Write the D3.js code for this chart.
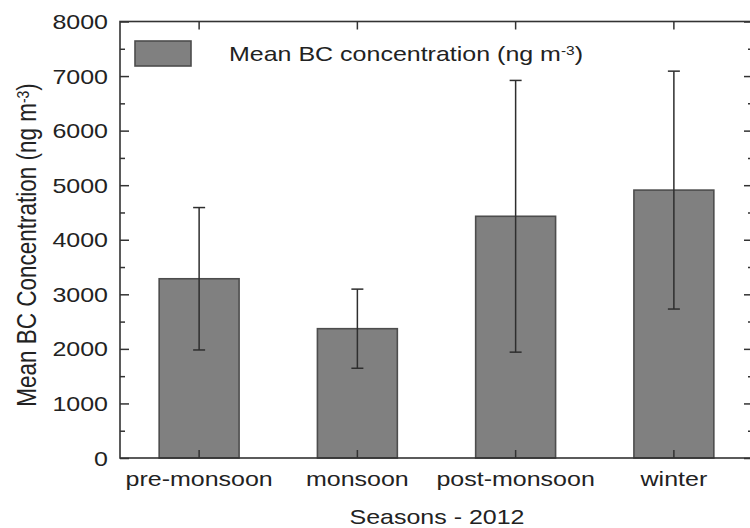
<!DOCTYPE html>
<html>
<head>
<meta charset="utf-8">
<script src="https://cdn.jsdelivr.net/npm/d3@7"></script>
<style>
  html, body { margin: 0; padding: 0; background: #fff; }
  svg { display: block; }
  text { font-family: "Liberation Sans", Arial, sans-serif; fill: #222; }
</style>
</head>
<body>
<svg id="chart" width="750" height="528"></svg>
<script>
// ---- data ----
const categories = ["pre-monsoon", "monsoon", "post-monsoon", "winter"];
const meanBC = [3285, 2370, 4430, 4910];
const sdBC = [1305, 725, 2490, 2180];
const yTicks = [0, 1000, 2000, 3000, 4000, 5000, 6000, 7000, 8000];
const yMinorTicks = [500, 1500, 2500, 3500, 4500, 5500, 6500, 7500];
const legendLabel = "Mean BC concentration (ng m";
const yTitle = "Mean BC Concentration (ng m";
const xTitle = "Seasons - 2012";

// ---- layout ----
const plotL = 120, plotR = 753, plotT = 21.5, plotB = 458;
const sx = 1.19; // horizontal stretch of the original picture's text
const axisColor = "#333";

const svg = d3.select("#chart");

const x = d3.scaleBand().domain(categories).range([plotL, plotR])
  .paddingInner(0.495).paddingOuter(0.2475);
const y = d3.scaleLinear().domain([0, 8000]).range([plotB, plotT]);

function stretchedText(g, px, py, str, opts = {}) {
  const t = g.append("text")
    .attr("transform", `translate(${px},${py}) scale(${sx},1)` + (opts.rotate ? ` rotate(${opts.rotate})` : ""))
    .attr("text-anchor", opts.anchor || "middle")
    .style("font-size", (opts.size || 21) + "px");
  if (opts.dy) t.attr("dy", opts.dy);
  t.append("tspan").text(str);
  if (opts.sup) {
    t.append("tspan").text(opts.sup).attr("dy", "-0.45em").style("font-size", "0.62em");
    t.append("tspan").text(")").attr("dy", "0.28em");
  }
  return t;
}

// ---- bars ----
const data = categories.map((c, i) => ({ c, m: meanBC[i], sd: sdBC[i] }));

svg.append("g").selectAll("rect").data(data).join("rect")
  .attr("x", d => x(d.c))
  .attr("y", d => y(d.m))
  .attr("width", x.bandwidth())
  .attr("height", d => y(0) - y(d.m))
  .attr("fill", "#808080")
  .attr("stroke", "#4d4d4d")
  .attr("stroke-width", 1.6);

// ---- error bars ----
const eb = svg.append("g").attr("stroke", "#2e2e2e").attr("stroke-width", 1.5);
eb.selectAll("line.v").data(data).join("line").attr("class", "v")
  .attr("x1", d => x(d.c) + x.bandwidth() / 2).attr("x2", d => x(d.c) + x.bandwidth() / 2)
  .attr("y1", d => y(d.m - d.sd)).attr("y2", d => y(d.m + d.sd));
eb.selectAll("line.t").data(data).join("line").attr("class", "t")
  .attr("x1", d => x(d.c) + x.bandwidth() / 2 - 6).attr("x2", d => x(d.c) + x.bandwidth() / 2 + 6)
  .attr("y1", d => y(d.m + d.sd)).attr("y2", d => y(d.m + d.sd));
eb.selectAll("line.b").data(data).join("line").attr("class", "b")
  .attr("x1", d => x(d.c) + x.bandwidth() / 2 - 6).attr("x2", d => x(d.c) + x.bandwidth() / 2 + 6)
  .attr("y1", d => y(d.m - d.sd)).attr("y2", d => y(d.m - d.sd));

// ---- axes (inward ticks) ----
function styleAxis(g) {
  g.select(".domain").remove();
  g.selectAll("line").attr("stroke", axisColor).attr("stroke-width", 1.5);
  g.selectAll("text").remove();
}
svg.append("g").attr("transform", `translate(${plotL},0)`)
  .call(d3.axisLeft(y).tickValues(yTicks).tickSize(-9).tickFormat("")).call(styleAxis);
svg.append("g").attr("transform", `translate(${plotL},0)`)
  .call(d3.axisLeft(y).tickValues(yMinorTicks).tickSize(-5).tickFormat("")).call(styleAxis);
svg.append("g").attr("transform", `translate(${plotR},0)`)
  .call(d3.axisRight(y).tickValues(yTicks).tickSize(-9).tickFormat("")).call(styleAxis);
svg.append("g").attr("transform", `translate(${plotR},0)`)
  .call(d3.axisRight(y).tickValues(yMinorTicks).tickSize(-5).tickFormat("")).call(styleAxis);
svg.append("g").attr("transform", `translate(0,${plotB})`)
  .call(d3.axisBottom(x).tickSize(-8).tickFormat("")).call(styleAxis);
svg.append("g").attr("transform", `translate(0,${plotT})`)
  .call(d3.axisTop(x).tickSize(-8).tickFormat("")).call(styleAxis);

// frame
svg.append("rect").attr("x", plotL).attr("y", plotT)
  .attr("width", plotR - plotL).attr("height", plotB - plotT)
  .attr("fill", "none").attr("stroke", axisColor).attr("stroke-width", 1.6);

// ---- tick labels ----
const lab = svg.append("g");
yTicks.forEach(v => stretchedText(lab, 108, y(v), String(v), { anchor: "end", dy: "0.36em" }));
categories.forEach(c => stretchedText(lab, x(c) + x.bandwidth() / 2, 486, c));

// ---- titles ----
stretchedText(lab, 437, 524, xTitle);
stretchedText(lab, 36, 245, yTitle, { rotate: -90, size: 22.5, sup: "-3" });

// ---- legend ----
svg.append("rect").attr("x", 135).attr("y", 41).attr("width", 56).attr("height", 25)
  .attr("fill", "#808080").attr("stroke", "#4d4d4d").attr("stroke-width", 1.6);
stretchedText(lab, 229, 61, legendLabel, { anchor: "start", sup: "-3" });
</script>
</body>
</html>
